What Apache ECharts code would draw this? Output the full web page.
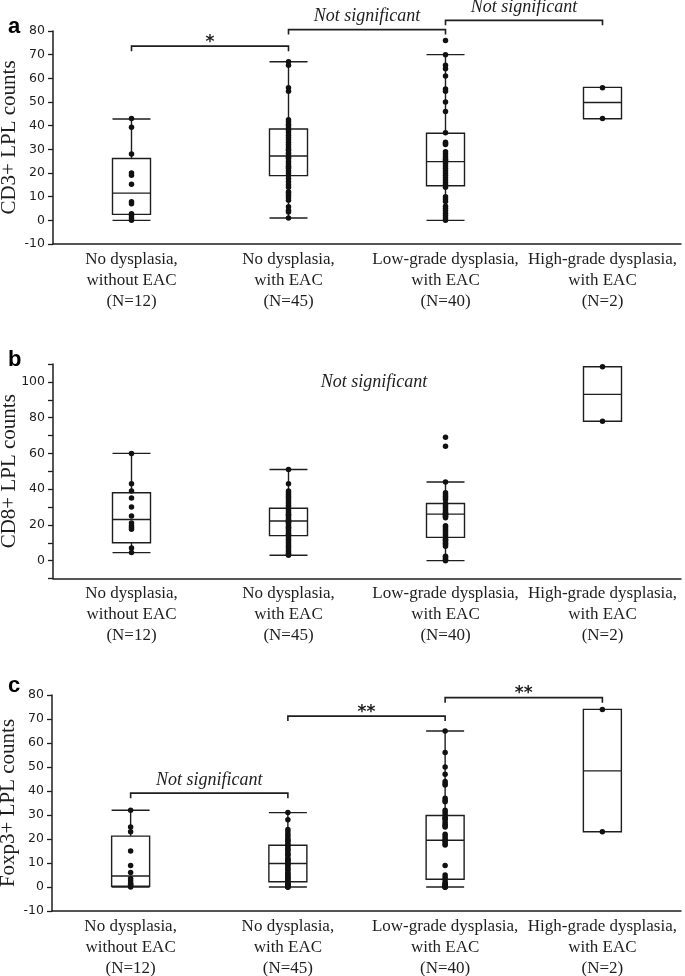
<!DOCTYPE html>
<html>
<head>
<meta charset="utf-8">
<script src="https://cdn.jsdelivr.net/npm/echarts@6/dist/echarts.min.js"></script>
<style>html,body{margin:0;padding:0;background:#fff}#c{width:685px;height:976px}</style>
</head>
<body>
<div id="c"></div>
<script>
// ---------- DATA ----------
const categories = [
  'No dysplasia,\nwithout EAC\n(N=12)',
  'No dysplasia,\nwith EAC\n(N=45)',
  'Low-grade dysplasia,\nwith EAC\n(N=40)',
  'High-grade dysplasia,\nwith EAC\n(N=2)'
];

// Panel a: CD3+ LPL counts  — box stats [min, Q1, median, Q3, max]
const cd3Box = [
  [0, 2.5, 11.5, 26.1, 42.8],
  [1, 18.9, 27.2, 38.6, 67],
  [0, 14.6, 24.8, 36.8, 70],
  [42.9, 42.9, 49.8, 56.2, 56.2]
];
const cd3G1 = [43, 39.3, 28, 20, 19, 15.2, 7.8, 7, 2.8, 2, 1, 0];
const cd3G2 = [67, 65.5, 56, 54.5, 42.5, 41.5, 40.5, 40, 39, 38, 37, 36, 35, 34, 33, 32, 31, 30, 29.5, 28.5, 28, 27, 26.5, 26, 25, 24, 23, 22.5, 22, 21, 20, 19, 17.7, 16.3, 15, 14, 12.1, 11.5, 10.6, 9.5, 8.5, 5.7, 4.3, 3.5, 1];
const cd3G3 = [76, 70, 65.5, 64, 61, 55.5, 54.5, 50, 46, 37, 33, 32.5, 32, 29, 28, 27, 26, 25.5, 25, 24, 23, 22, 21, 20, 19, 18, 17, 16, 15, 14, 10, 9, 8, 6, 5, 4, 3, 2, 1, 0];
const cd3G4 = [56, 43];
const cd3Brackets = [ // [fromCat, toCat, level, label]
  [0, 1, 73.6, '*'],
  [1, 2, 80.6, 'Not significant'],
  [2, 3, 84.5, 'Not significant']
];

// Panel b: CD8+ LPL counts
const cd8Box = [
  [4.5, 10, 23, 38, 60],
  [3, 14, 22.2, 29.3, 51],
  [0, 13, 26, 32, 44],
  [78, 78, 93, 108.5, 108.5]
];
const cd8G1 = [60, 43, 39, 35, 30, 25, 21, 19.5, 18.5, 17.5, 7, 4.5];
const cd8G2 = [51, 43, 39, 38, 37, 36, 35, 34, 33, 32, 31, 30, 29, 28, 27, 26, 25.5, 25, 24, 23, 22.5, 22, 21.5, 21, 20, 19, 18.5, 18, 17, 16, 15, 14.5, 14, 13, 12, 11, 10, 9, 8, 7, 6, 5, 4, 3.5, 3];
const cd8G3 = [69, 64, 44, 38, 37, 36, 35, 34, 32, 31, 30, 29, 28, 27, 26.5, 26, 25.5, 25, 24.5, 24, 19.5, 19, 18, 17, 16, 15, 14, 13, 12, 11.5, 11, 10, 9.5, 9, 8, 2.5, 2, 1, 0.5, 0];
const cd8G4 = [108.5, 78];
const cd8Brackets = [
  [1, 2, 100, 'Not significant', 'textOnly']
];

// Panel c: Foxp3+ LPL counts
const foxBox = [
  [0, 0.3, 4.6, 21.2, 32],
  [0, 2.2, 9.8, 17.4, 31],
  [0, 3.2, 19.5, 29.8, 65],
  [23, 23, 48.4, 74, 74]
];
const foxG1 = [32, 25, 23, 15, 9, 6, 3.5, 2.5, 1.5, 1, 0.5, 0];
const foxG2 = [31, 28, 24, 23, 22, 21, 20, 19.5, 19, 18, 17.5, 17, 16, 15.5, 15, 14, 13.5, 13, 12, 11.5, 11, 10.5, 10, 9.5, 9, 8, 7.5, 7, 6, 5.5, 5, 4.5, 4, 3.5, 3, 2.5, 2, 1.5, 1, 1, 0.5, 0.5, 0, 0, 0];
const foxG3 = [65, 56, 50, 47, 44, 43, 42.5, 37, 36, 35.5, 32, 31, 30, 29, 28.5, 28, 27, 26, 25.5, 25, 22, 21, 20, 19.5, 19, 18, 17.5, 9, 5, 4, 3, 2, 1.5, 1, 0.5, 0.5, 0, 0, 0, 0];
const foxG4 = [74, 23];
const foxBrackets = [
  [0, 1, 39.1, 'Not significant'],
  [1, 2, 71.2, '**'],
  [2, 3, 78.9, '**']
];

// ---------- CHART ----------
const INK = '#1e1e1e';
const chart = echarts.init(document.getElementById('c'), null, {renderer: 'canvas'});

function points(groups) {
  const out = [];
  groups.forEach((g, i) => g.forEach(v => out.push([i, v])));
  return out;
}

function bracketSeries(list, idx) {
  return {
    type: 'custom', xAxisIndex: idx, yAxisIndex: idx, clip: false, silent: true, z: 5,
    data: list.map(b => [b[0], b[2]]),
    encode: {x: 0, y: 1},
    renderItem: function (params, api) {
      const b = list[params.dataIndex];
      const p1 = api.coord([b[0], b[2]]);
      const p2 = api.coord([b[1], b[2]]);
      const mid = (p1[0] + p2[0]) / 2;
      const children = [];
      const isStar = b[3].indexOf('*') === 0;
      if (b[4] !== 'textOnly') {
        children.push({
          type: 'polyline',
          shape: {points: [[p1[0], p1[1] + 5], [p1[0], p1[1]], [p2[0], p2[1]], [p2[0], p2[1] + 5]]},
          style: {stroke: INK, lineWidth: 1.6, fill: 'none'}
        });
      }
      let dy = b[4] === 'textOnly' ? 0 : (isStar ? -4 : -13);
      children.push({
        type: 'text',
        style: {
          text: b[3], x: mid + (b[4] === 'textOnly' ? 7 : 0), y: p1[1] + dy,
          align: 'center', verticalAlign: 'middle',
          fill: INK,
          font: isStar ? 'bold 17px "DejaVu Sans"' : 'italic 18px "Liberation Serif"'
        }
      });
      return {type: 'group', children: children};
    }
  };
}

const grids = [
  {left: 53, width: 628, top: 31, height: 213, outerBoundsMode: 'none', containLabel: false},
  {left: 53, width: 628, top: 364, height: 214.5, outerBoundsMode: 'none', containLabel: false},
  {left: 52, width: 629, top: 695, height: 216, outerBoundsMode: 'none', containLabel: false}
];
const yNames = ['CD3+ LPL counts', 'CD8+ LPL counts', 'Foxp3+ LPL counts'];
const yMax = [80, 110, 80];

const xAxes = grids.map((g, i) => ({
  type: 'category', gridIndex: i, data: categories, boundaryGap: true,
  axisLine: {onZero: false, lineStyle: {color: INK, width: 1.5}},
  axisTick: {show: false},
  axisLabel: {
    interval: 0, margin: 5, color: INK,
    fontFamily: 'Liberation Serif', fontSize: 17, lineHeight: 21
  }
}));

const yAxes = grids.map((g, i) => ({
  type: 'value', gridIndex: i, min: -10, max: yMax[i], interval: 10,
  name: yNames[i], nameLocation: 'middle', nameGap: 33, nameMoveOverlap: false,
  nameTextStyle: {fontFamily: 'Liberation Serif', fontSize: 21, color: INK},
  axisLine: {show: true, lineStyle: {color: INK, width: 1.5}},
  axisTick: {show: true, length: 5, lineStyle: {color: INK, width: 1.3}},
  splitLine: {show: false},
  axisLabel: {
    margin: 8, color: INK, fontFamily: 'DejaVu Sans', fontSize: 12.5,
    formatter: i === 1 ? (v => (v % 20 === 0 ? String(v) : '')) : (v => String(v))
  }
}));

function boxSeries(data, idx) {
  return {
    type: 'boxplot', xAxisIndex: idx, yAxisIndex: idx, data: data,
    boxWidth: [38, 38], silent: true, z: 2,
    itemStyle: {color: '#ffffff', borderColor: INK, borderWidth: 1.4},
    emphasis: {disabled: true}
  };
}
function dotSeries(groups, idx) {
  return {
    type: 'scatter', xAxisIndex: idx, yAxisIndex: idx, data: points(groups),
    symbolSize: 5.5, itemStyle: {color: '#111', opacity: 1}, silent: true, z: 4
  };
}

chart.setOption({
  animation: false,
  backgroundColor: '#fff',
  title: [
    {text: 'a', left: 3, top: 11, textStyle: {fontFamily: 'Liberation Sans', fontWeight: 'bold', fontSize: 22, color: '#000'}},
    {text: 'b', left: 3, top: 344, textStyle: {fontFamily: 'Liberation Sans', fontWeight: 'bold', fontSize: 22, color: '#000'}},
    {text: 'c', left: 3, top: 670, textStyle: {fontFamily: 'Liberation Sans', fontWeight: 'bold', fontSize: 22, color: '#000'}}
  ],
  grid: grids,
  xAxis: xAxes,
  yAxis: yAxes,
  series: [
    boxSeries(cd3Box, 0), dotSeries([cd3G1, cd3G2, cd3G3, cd3G4], 0), bracketSeries(cd3Brackets, 0),
    boxSeries(cd8Box, 1), dotSeries([cd8G1, cd8G2, cd8G3, cd8G4], 1), bracketSeries(cd8Brackets, 1),
    boxSeries(foxBox, 2), dotSeries([foxG1, foxG2, foxG3, foxG4], 2), bracketSeries(foxBrackets, 2)
  ]
});
</script>
</body>
</html>
